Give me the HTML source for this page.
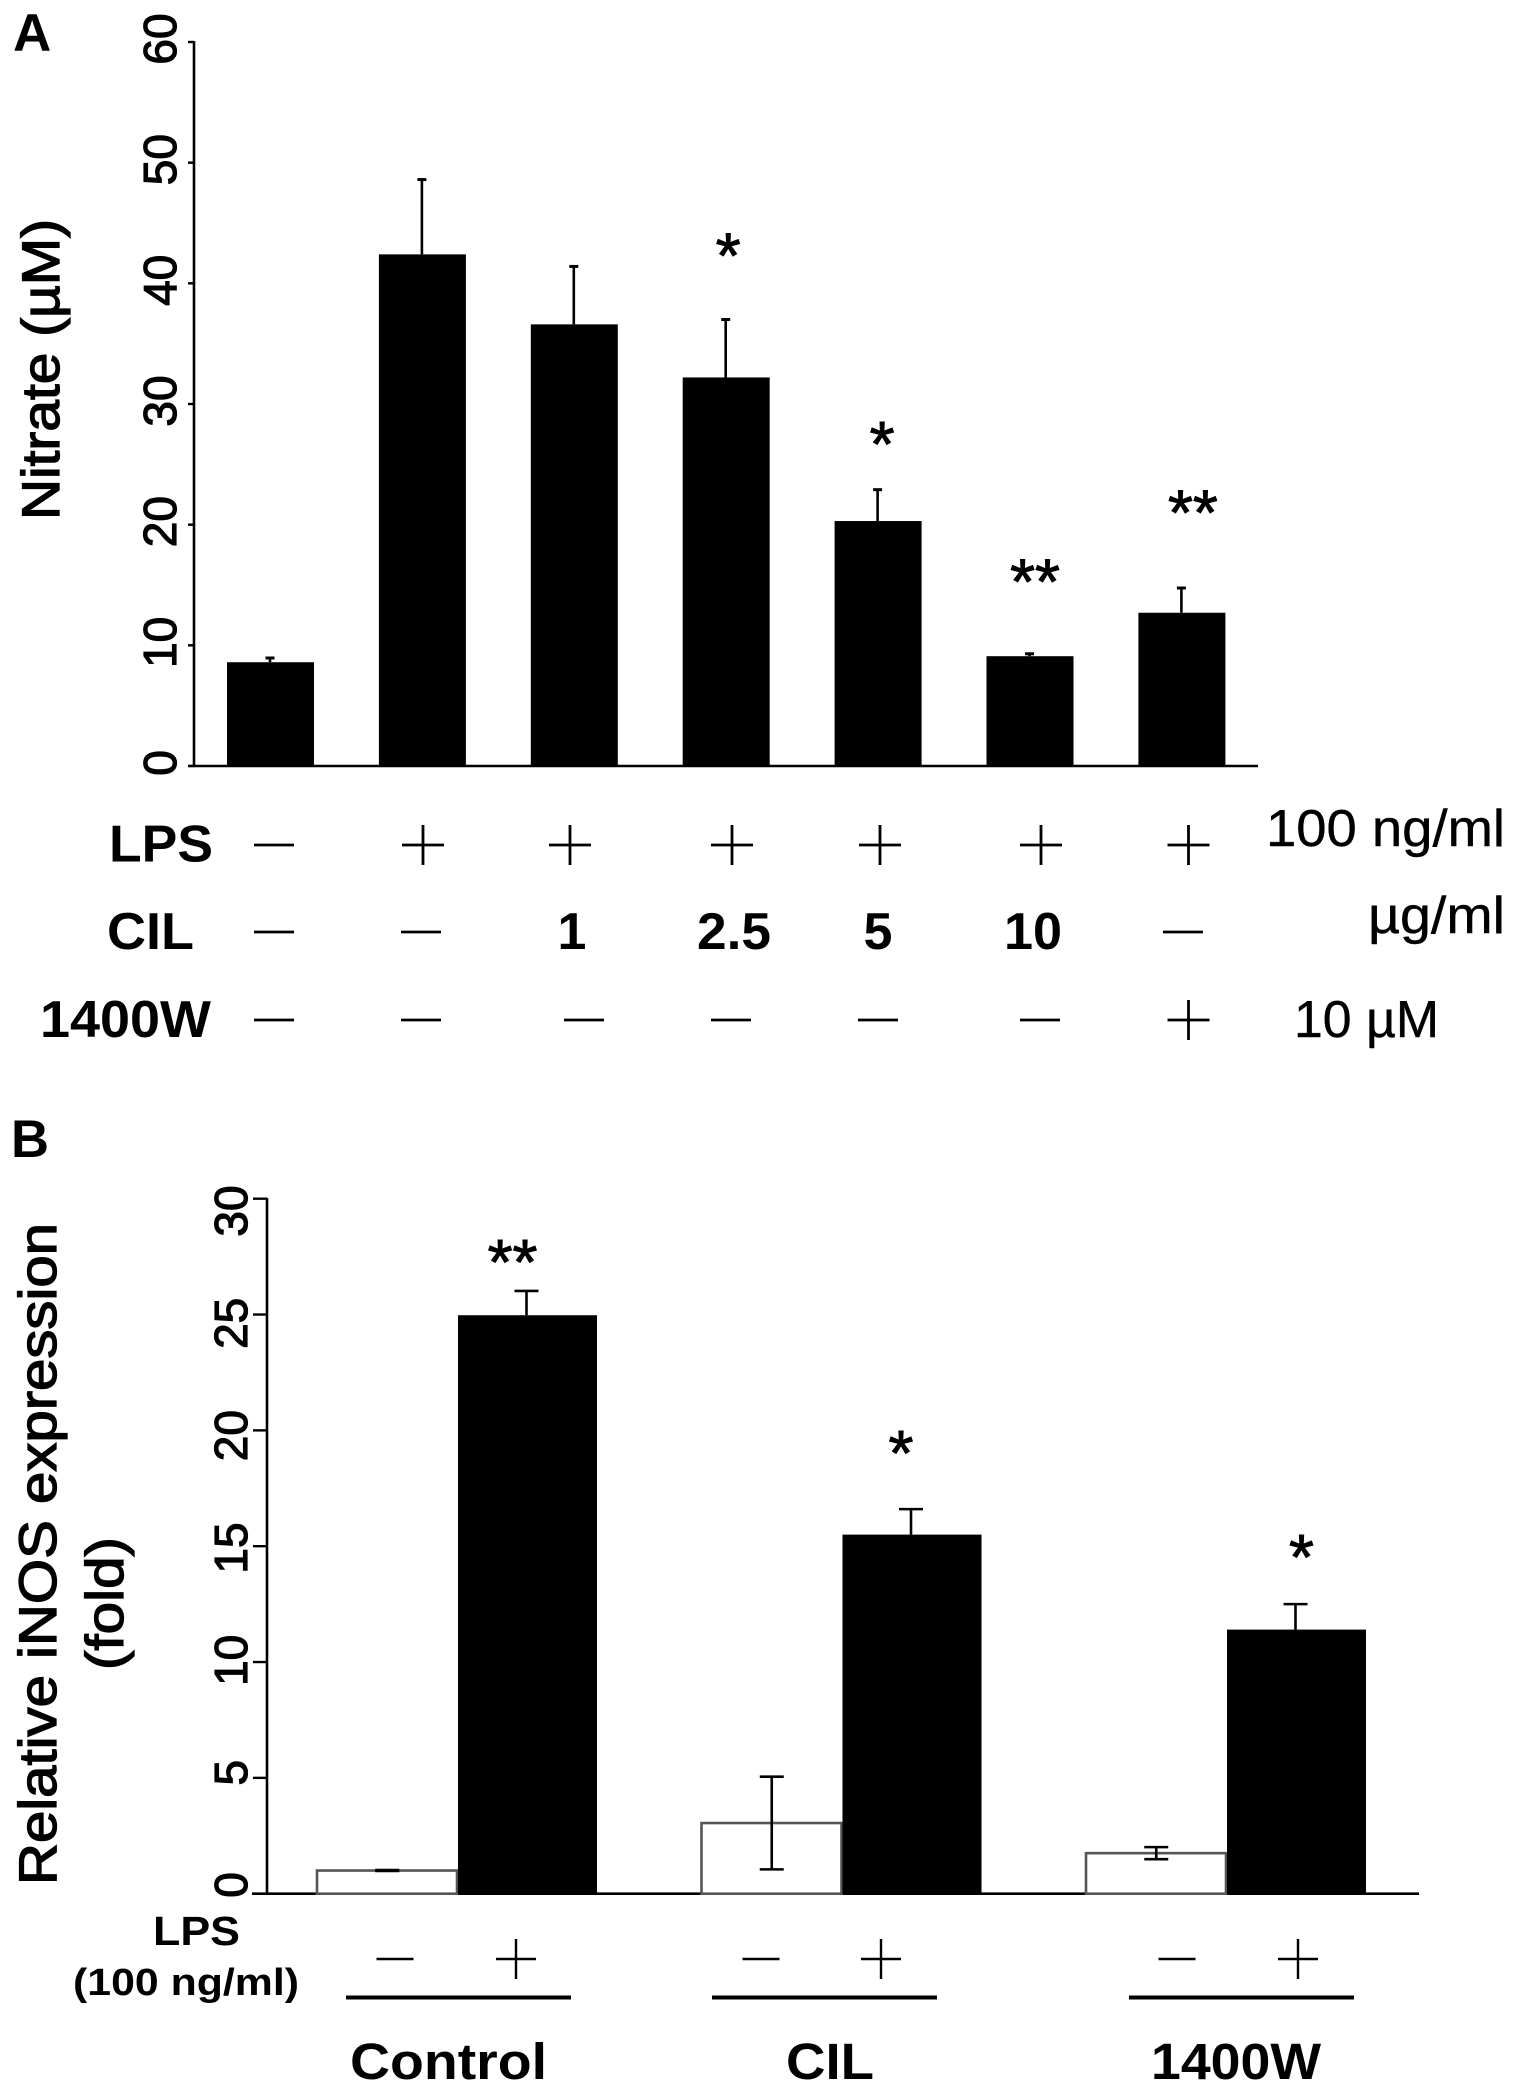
<!DOCTYPE html>
<html lang="en">
<head>
<meta charset="utf-8">
<title>Nitrate and iNOS expression bar charts</title>
<style>
html,body{margin:0;padding:0;background:#fff;width:1535px;height:2093px;overflow:hidden}
svg{display:block}
text{font-family:"Liberation Sans",sans-serif;fill:#000}
.b{font-weight:bold}
.tick{font-size:46px;stroke:#000;stroke-width:1.2px}
.star{font-size:64px;font-weight:normal;stroke:#000;stroke-width:1px}
.med{stroke:#000;stroke-width:1.3px}
.unit{stroke:#000;stroke-width:.4px}
</style>
</head>
<body>
<svg id="fig" xmlns="http://www.w3.org/2000/svg" width="1535" height="2093" viewBox="0 0 1535 2093">
  <text class="b" x="13" y="51" font-size="53">A</text>
  <text class="b" x="11" y="1157" font-size="53" textLength="38" lengthAdjust="spacingAndGlyphs">B</text>

  <text class="med" transform="translate(59 520) rotate(-90)" font-size="53" textLength="301" lengthAdjust="spacingAndGlyphs">Nitrate (µM)</text>

  <text class="b" x="109" y="861.5" font-size="52" textLength="104" lengthAdjust="spacingAndGlyphs">LPS</text>
  <text class="b" x="107" y="949" font-size="52" textLength="87" lengthAdjust="spacingAndGlyphs">CIL</text>
  <text class="b" x="40" y="1037" font-size="52" textLength="171" lengthAdjust="spacingAndGlyphs">1400W</text>
  <text class="b" x="572" y="949" font-size="52" text-anchor="middle">1</text>
  <text class="b" x="697" y="949" font-size="52" textLength="74" lengthAdjust="spacingAndGlyphs">2.5</text>
  <text class="b" x="878" y="949" font-size="52" text-anchor="middle">5</text>
  <text class="b" x="1004" y="949" font-size="52" textLength="58" lengthAdjust="spacingAndGlyphs">10</text>
  <text class="unit" x="1266" y="846" font-size="52" textLength="239" lengthAdjust="spacingAndGlyphs">100 ng/ml</text>
  <text class="unit" x="1368" y="933" font-size="52" textLength="137" lengthAdjust="spacingAndGlyphs">µg/ml</text>
  <text class="unit" x="1294" y="1037" font-size="52" textLength="145" lengthAdjust="spacingAndGlyphs">10 µM</text>

  <text class="med" transform="translate(56 1885) rotate(-90)" font-size="53" textLength="662" lengthAdjust="spacingAndGlyphs">Relative iNOS expression</text>
  <text class="med" transform="translate(123 1670) rotate(-90)" font-size="53" textLength="133" lengthAdjust="spacingAndGlyphs">(fold)</text>

  <text class="b" x="153" y="1945" font-size="41" textLength="87" lengthAdjust="spacingAndGlyphs">LPS</text>
  <text class="b" x="73" y="1995" font-size="38" textLength="226" lengthAdjust="spacingAndGlyphs">(100 ng/ml)</text>
  <text class="b" x="350" y="2079" font-size="51" textLength="197" lengthAdjust="spacingAndGlyphs">Control</text>
  <text class="b" x="786" y="2079" font-size="51" textLength="88" lengthAdjust="spacingAndGlyphs">CIL</text>
  <text class="b" x="1151" y="2079" font-size="51" textLength="170" lengthAdjust="spacingAndGlyphs">1400W</text>
</svg>
<script>
// Panel A data
const aCategories = ['none','LPS','LPS+CIL1','LPS+CIL2.5','LPS+CIL5','LPS+CIL10','LPS+1400W'];
const aValues = [8.6,42.4,36.6,32.2,20.3,9.1,12.7];
const aErrors = [0.35,6.2,4.8,4.8,2.6,0.2,2.05];
const aTicks = [0,10,20,30,40,50,60];
// Panel B data
const bGroups = ['Control','CIL','1400W'];
const bWithout = [1.0,3.05,1.75];
const bWithoutErr = [0.02,2.0,0.26];
const bWith = [24.97,15.5,11.4];
const bWithErr = [1.05,1.1,1.1];
const bTicks = [0,5,10,15,20,25,30];

const svg = document.getElementById('fig');
const NS = 'http://www.w3.org/2000/svg';
function add(tag, attrs){
  const n = document.createElementNS(NS, tag);
  for (const k in attrs) n.setAttribute(k, attrs[k]);
  svg.appendChild(n);
  return n;
}
function line(x1,y1,x2,y2,w,c){
  return add('line',{x1:x1,y1:y1,x2:x2,y2:y2,stroke:c||'#000','stroke-width':w});
}
let el;

// Panel A scales
const aY = v => 766 - v * 724 / 60;
const aX = i => 227 + i * 151.9;
const aBarW = 87;

// Panel B scales
const bY = v => 1893.7 - v * 695 / 30;
const bX = g => 315.5 + g * 384.5;
const bWhiteW = 141.5;
const bBlackW = 139;
const bLabelY = v => 1885 + (1211 - 1885) * v / 30;

// Panel A axes
el = line(194,41,194,767,2.6);


el = line(189,766,1258,766,2.6);


aTicks.forEach(t => {
  el = line(188,aY(t),194,aY(t),2.4);
  
  
  el = add('text',{class:'tick','text-anchor':'middle',transform:'translate(176 '+(aY(t)-3)+') rotate(-90)'});
  el.textContent = t;
  
  
});

// Panel A bars
aValues.forEach((v,i) => {
  const cx = aX(i) + aBarW/2 - 0.5;
  el = line(cx,aY(v),cx,aY(v+aErrors[i]),2.6);
  
  
  el = line(cx-4.5,aY(v+aErrors[i]),cx+4.5,aY(v+aErrors[i]),3);
  
  
  el = add('rect',{x:aX(i),y:aY(v),width:aBarW,height:766-aY(v),fill:'#000'});
  
  
});

function aStar(i, level, txt, dx){
  const s = add('text',{class:'star','text-anchor':'middle',x:aX(i)+aBarW/2+dx,y:aY(level)+33});
  s.textContent = txt;
  
  
}
aStar(3,43.2,'*',2);
aStar(4,27.6,'*',4);
aStar(5,16.2,'**',5);
aStar(6,21.9,'**',11);

// Panel B axes
el = line(267,1198,267,1895,2.6);


el = line(252,1893.7,1419,1893.7,2.6);


bTicks.forEach(t => {
  el = line(253,bY(t),267,bY(t),2.4);
  
  
  el = add('text',{class:'tick','text-anchor':'middle',transform:'translate(247 '+bLabelY(t)+') rotate(-90)'});
  el.textContent = t;
  
  
});

// Panel B bars
bGroups.forEach((g,i) => {
  const x = bX(i);
  const v = bWithout[i], e = bWithoutErr[i];
  el = add('rect',{x:x+1.5,y:bY(v),width:bWhiteW-1.5,height:1893.7-bY(v),fill:'#fff',stroke:'#555','stroke-width':2.6});
  
  
  const cw = x + bWhiteW/2 + 1;
  el = line(cw,bY(v-e),cw,bY(v+e),2.6);
  
  
  el = line(cw-12,bY(v+e),cw+12,bY(v+e),2.6);
  
  
  el = line(cw-12,bY(v-e),cw+12,bY(v-e),2.6);
  
  

  const w = bWith[i], f = bWithErr[i];
  const bx = x + bWhiteW + 1;
  const cb = bx + bBlackW/2 - 1;
  el = line(cb,bY(w),cb,bY(w+f),2.6);
  
  
  el = line(cb-12,bY(w+f),cb+12,bY(w+f),2.6);
  
  
  el = add('rect',{x:bx,y:bY(w),width:bBlackW,height:1893.7-bY(w),fill:'#000'});
  
  
});

function bStar(i, level, txt, dx){
  const cx = bX(i) + bWhiteW + 1 + bBlackW/2 + dx;
  const s = add('text',{class:'star','text-anchor':'middle',x:cx,y:bY(level)+33});
  s.textContent = txt;
  
  
}
bStar(0,27.75,'**',-15);
bStar(1,19.5,'*',-11);
bStar(2,15.0,'*',5);

// Treatment table signs
function dash(x,y,len,w){
  const n = line(x-len/2,y,x+len/2,y,w);
  
  
}
function plus(x,y,hw,hh,w){
  const n = add('path',{d:'M'+(x-hw)+' '+y+'H'+(x+hw)+'M'+x+' '+(y-hh)+'V'+(y+hh),stroke:'#000','stroke-width':w,fill:'none'});
  
  
}
dash(274,845,40,2.8);
[423,570,732,880,1041,1188.5].forEach(x => plus(x,845,21,20,2.8));
[274,421].forEach(x => dash(x,932,40,2.8));
dash(1183,932,40,2.8);
[274,421,584,731,878,1040].forEach(x => dash(x,1020,40,2.8));
plus(1188.5,1020,21,20,2.8);

[395,761,1177].forEach(x => dash(x,1959,37,2.4));
[516,881,1298].forEach(x => plus(x,1959,20,20,2.4));

[[346,571],[712,937],[1129,1354]].forEach(p => {
  const u = line(p[0],1997.5,p[1],1997.5,4);
  
  
});
</script>
</body>
</html>
